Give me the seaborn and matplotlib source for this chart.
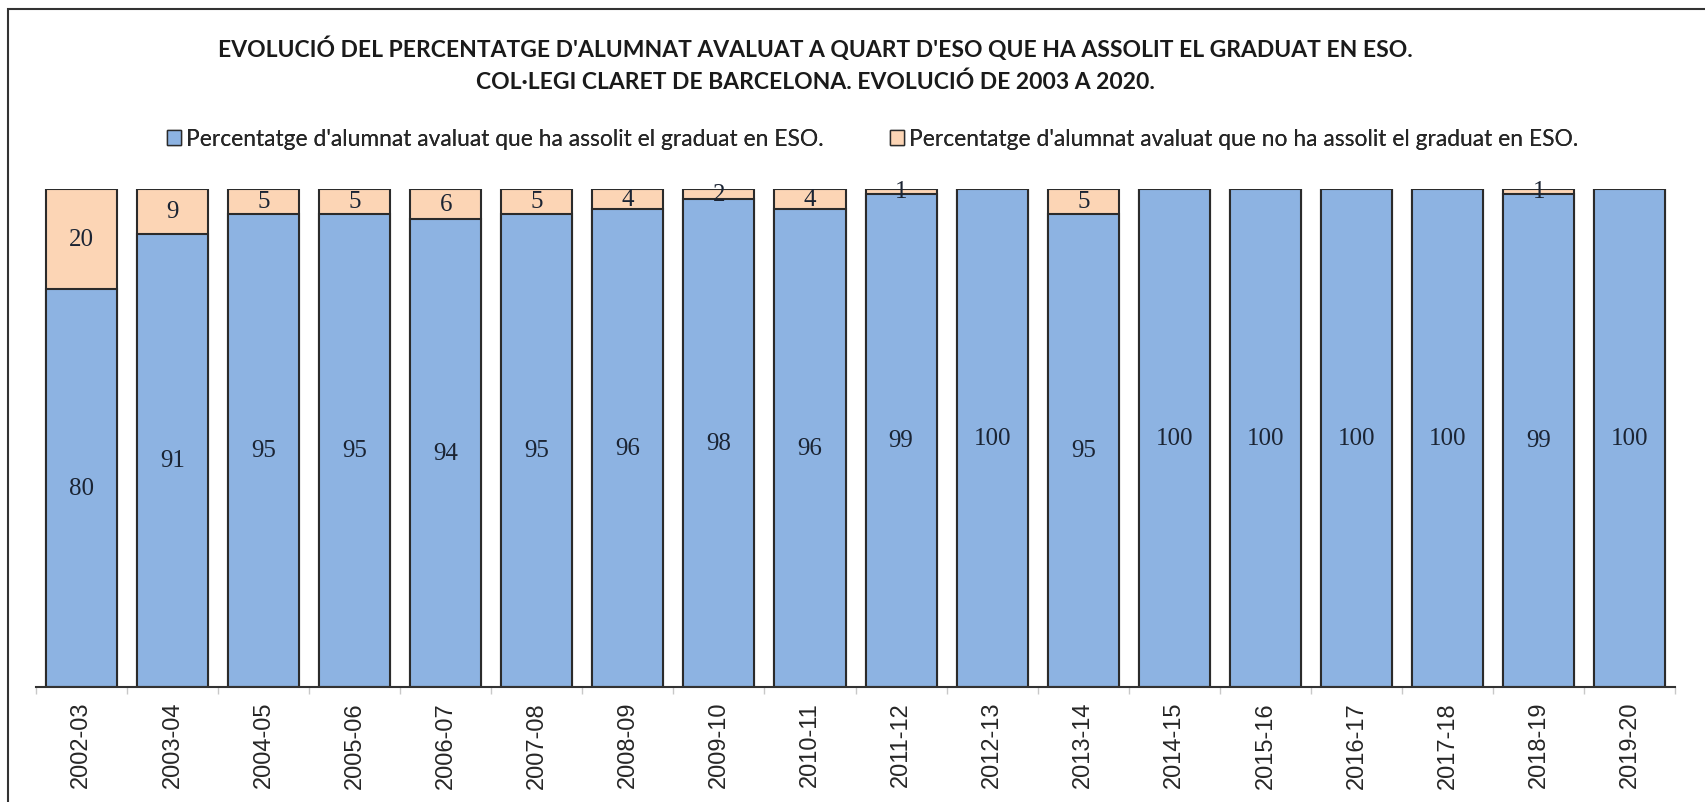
import numpy as np
import pandas as pd
import matplotlib
matplotlib.use("Agg")
import matplotlib.pyplot as plt
from matplotlib.patches import Patch, Rectangle
import seaborn as sns

sns.set_style("white")
plt.rcParams['font.family'] = ['Lato', 'DejaVu Sans']

# data
cursos = ["2002-03", "2003-04", "2004-05", "2005-06", "2006-07", "2007-08",
          "2008-09", "2009-10", "2010-11", "2011-12", "2012-13", "2013-14",
          "2014-15", "2015-16", "2016-17", "2017-18", "2018-19", "2019-20"]
graduats = [80, 91, 95, 95, 94, 95, 96, 98, 96, 99, 100, 95, 100, 100, 100, 100, 99, 100]
no_graduats = [20, 9, 5, 5, 6, 5, 4, 2, 4, 1, 0, 5, 0, 0, 0, 0, 1, 0]

titol1 = "EVOLUCIÓ DEL PERCENTATGE D'ALUMNAT AVALUAT A QUART D'ESO QUE HA ASSOLIT EL GRADUAT EN ESO."
titol2 = "COL·LEGI CLARET DE BARCELONA. EVOLUCIÓ DE 2003 A 2020."
llegenda = ["Percentatge d'alumnat avaluat que ha assolit el graduat en ESO.",
            "Percentatge d'alumnat avaluat que no ha assolit el graduat en ESO."]

blau = "#8DB3E2"
taronja = "#FCD5B5"
vora = "#2b2b2b"

df = pd.DataFrame({"curs": cursos, "si": graduats, "no": no_graduats})
df["total"] = df["si"] + df["no"]

fig = plt.figure(figsize=(17.06, 8.03), dpi=100)
ax = fig.add_axes([0.021, 0.1432, 0.961, 0.6202])

sns.barplot(data=df, x="curs", y="total", color=taronja, saturation=1,
            width=0.78, edgecolor=vora, linewidth=1.5, ax=ax)
sns.barplot(data=df, x="curs", y="si", color=blau, saturation=1,
            width=0.78, edgecolor=vora, linewidth=1.5, ax=ax)

# labels
color_txt = "#1b2433"
ax.bar_label(ax.containers[1], labels=[str(v) for v in df["si"]], label_type="center",
             fontsize=18, family="Liberation Serif", color=color_txt)
for i, (s, n) in enumerate(zip(df["si"], df["no"])):
    if n > 0:
        ax.text(i, s + n / 2, str(n), ha="center", va="center", fontsize=18,
                family="Liberation Serif", color=color_txt)

ax.set_ylim(0, 100)
ax.set_xlim(-0.5, len(cursos) - 0.5)
ax.set_xlabel("")
ax.set_ylabel("")
ax.set_yticks([])
ax.set_xticks(np.arange(-0.5, len(cursos), 1), minor=True)
ax.tick_params(axis="x", which="major", length=0, pad=10, labelsize=17)
ax.tick_params(axis="x", which="minor", length=5, width=1, color="#c8c8c8", direction="out")
ax.tick_params(axis="x", which="minor", bottom=True)
for lab in ax.get_xticklabels():
    lab.set_rotation(90)
    lab.set_family("Liberation Sans")
for side in ["top", "right", "left"]:
    ax.spines[side].set_visible(False)
ax.spines["bottom"].set_color("#333333")
ax.spines["bottom"].set_linewidth(1.5)

fig.text(0.478, 1 - 48.5 / 803, titol1, ha="center", va="center", fontsize=16.5,
         fontweight="bold", color="#1a1a1a")
fig.text(0.478, 1 - 82 / 803, titol2, ha="center", va="center", fontsize=16.5,
         fontweight="bold", color="#1a1a1a")

handles = [Patch(facecolor=blau, edgecolor=vora, linewidth=1),
           Patch(facecolor=taronja, edgecolor=vora, linewidth=1)]
xs = [167 / 1706, 890 / 1706]
for h, t, x in zip(handles, llegenda, xs):
    lg = fig.legend([h], [t], loc="center left", bbox_to_anchor=(x, 1 - 140 / 803),
                    frameon=False, fontsize=16.4, handlelength=0.6, handleheight=0.6,
                    handletextpad=0.25, borderaxespad=0, borderpad=0)
    fig.add_artist(lg)

# frame around the chart area
fig.patches.append(Rectangle((8 / 1706, -0.05), 1.1, 1 - 10 / 803 + 0.05,
                             transform=fig.transFigure, fill=False,
                             edgecolor="#333333", linewidth=1.5))

fig.savefig("out.png", dpi=100)
